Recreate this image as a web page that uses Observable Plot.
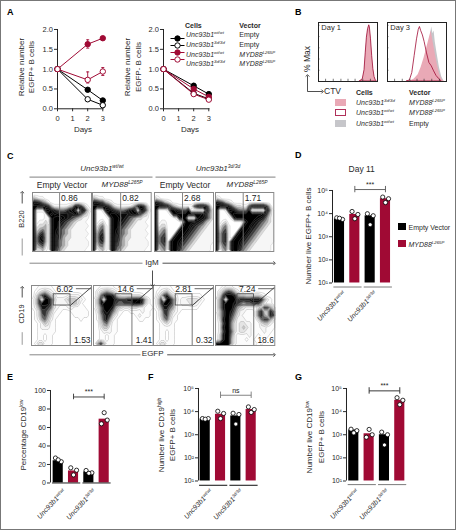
<!DOCTYPE html>
<html><head><meta charset="utf-8">
<script src="https://cdn.jsdelivr.net/npm/d3@7"></script>
<script src="https://cdn.jsdelivr.net/npm/@observablehq/plot@0.6"></script>
<style>
html,body{margin:0;padding:0;background:#fff}
#fig{position:relative;width:457px;height:531px;overflow:hidden;font-family:"Liberation Sans",Arial,sans-serif;color:#2a2a2a}
.t{position:absolute;white-space:nowrap;line-height:1}
.t sup{font-size:.62em;line-height:0;vertical-align:.55em}
.sw{position:absolute;box-sizing:border-box}
#border{position:absolute;left:0;top:0;width:456px;height:530px;box-sizing:border-box;border:1.5px solid #777;pointer-events:none}
svg{overflow:visible}
</style></head><body><div id="fig"><div id="border"></div></div>
<script>
// ---------- data ----------
const RED="#a00a34", PINK="#e9a9b6", GREYF="#c6c6ca";
const days=[0,2,3];
const aLeftBlackFilled=[1,0.48,0.21], aLeftBlackOpen=[1,0.24,0.09], aLeftRedFilled=[1,1.63,1.78], aLeftRedOpen=[1,0.73,0.94];
const aRightBlackFilled=[1,0.58,0.37], aRightBlackOpen=[1,0.39,0.25], aRightRedFilled=[1,0.5,0.3], aRightRedOpen=[1,0.37,0.23];
const aLeftErr=[{x:2,lo:1.53,hi:1.74,c:RED},{x:2,lo:0.65,hi:0.93,c:RED},{x:3,lo:0.84,hi:1.04,c:RED}];
const aRightErr=[{x:2,lo:0.52,hi:0.64,c:"#000"},{x:3,lo:0.32,hi:0.42,c:"#000"}];
const aYTicks=[0,0.5,1,1.5,2], aXTicks=[0,1,2,3];
const cellsLabels=["Unc93b1<sup>wt/wt</sup>","Unc93b1<sup>3d/3d</sup>","Unc93b1<sup>wt/wt</sup>","Unc93b1<sup>3d/3d</sup>"];
const vectorLabels=["Empty","Empty","<i>MYD88<sup>L265P</sup></i>","<i>MYD88<sup>L265P</sup></i>"];

const histDay1X=[70,75,78,80,82,84,86,87,89,91,93,95,97,99];
const histDay1Y=[0,0.04,0.2,0.5,0.78,0.93,1,0.97,0.75,0.45,0.22,0.08,0.02,0];
const histOutlineX=[33,38,42,46,50,53,55,57,60,63,67,71,75,79,83,87,92];
const histOutlineY=[0,0.02,0.15,0.45,0.75,0.92,0.97,0.9,0.82,0.7,0.5,0.33,0.27,0.18,0.1,0.05,0];
const histGreyX=[60,66,70,73,75,77,79,81,84,88,92,96];
const histGreyY=[0,0.2,0.5,0.85,0.97,0.85,0.9,0.7,0.5,0.25,0.08,0];
const histPinkX=[36,45,52,57,62,67,71,74,77,80,84,88,92,96];
const histPinkY=[0,0.04,0.12,0.25,0.42,0.62,0.78,0.9,0.72,0.55,0.32,0.14,0.04,0];
const histTicksX=[12,25,38,50,62,75,88], histTicksY=[0.2,0.4,0.6,0.8,1];

const top1=["00000000000000000000","32110000000000000000","77643100000000000000","99997631111123786310","91119976544578909831","90001897877766875320","90001189998765432110","90112189976543211100","91223089965432111110","92343089854321111100","93563089754321111110","94783089653221111100","94673089643211111110","93452089643211111110","92231089532111111100"];
const top2=["00000000000000000000","32110000000000000000","77653210000000000000","99997642111112478630","90019976544578909941","90001899877767875320","90000189987654322110","90120089976543211100","91341089965432111110","92451089854321111100","93561089754321111110","93671089653221111100","93561089643211111110","92441089543211111110","91231089432111111100"];
const top3=["00000000000000000000","21000000000000000000","76532100000000000000","99997532111115899740","90001997655900000952","90000199999999998642","90000001899000987642","90110000019999765321","91220000089976543211","92340000899865432111","93450008998654321111","94560089986543211111","94560899865432111111","93450899754321111110","92340899643211111110"];
const top4=["00000000000000000000","21000000000000000000","76532100000000000000","99997532211589999630","90019975444900000951","90001899999999998631","90000189999999876421","90120000018997654321","91341000089976543211","92451000899865432111","93561008998654321111","93561089986543211111","93561899865432111111","92451899754321111110","91341899643211111110"];
const bot1=["00111110000000000000","01234321000000000000","02578643111122221000","13709974222344432100","13799973222234431000","12588763211122111100","01377642110001111110","01367531100000111110","01256421000000001000","00124311000000000000","00122211000000000000","00111111000000000000","00110110000000000000","00110110000000000000","01331110000000000000"];
const bot2=["00111110000000000000","02345432100000000000","02689985322222221000","14809998777889998410","14899997667779997310","13699985432233322111","02689864110011112110","01578742100000121110","01478521000000011000","00356311000000000000","00244211000000000000","00122211000000000000","00110110000000000000","00110110000000000000","05841110000000000000"];
const bot3=["00111100000000000000","01234210000000000000","02478532111111110000","13709963122333321000","13799862122233210000","12588652111111100000","01377532100000000000","01367421000000000000","01256311000000000000","00123210000000000000","00111110000000000000","00110110000000000000","00110110000000000000","00110110000000000000","01331110000000000000"];
const bot4=["00122211000000000000","02467642100000000000","03799985443333321000","25809997888899985210","25899987656677752110","25899975432222347753","24799864221112684486","14799753211112685487","13899642221111367753","12799532332211134421","12899532343211122111","12799632332211112110","13899521111211011100","13899421110110011000","99999421111111010000"];
const topLabels=["0.86","0.82","2.68","1.71"];
const topGates=[9.2,9.6,9.5,9.5];
const midLabels=["6.02","14.6","2.81","7.24"];
const midLabelPos=[11.1,10.8,10,10.7];
const lowLabels=["1.53","1.41","0.32","18.6"];

const jitter=[-0.18,0.2,0];
const dBars=[5800,9200,8000,44000];
const dDots=[[6600,5600,6300],[12400,9200,6000],[9900,8100,3300],[52000,44000,30000]];
const eBars=[24,13,12,69];
const eDots=[[27,23,25],[16.4,13.8,8.7],[13.5,11,10.5],[64,68,76]];
const fBars=[4700,7700,6500,12300];
const fDots=[[5000,5000,4700],[10400,8300,5000],[8500,7500,2900],[16000,12300,9200]];
const gBars=[1600,1100,1000,31000];
const gDots=[[1740,1500,1200],[780,1000,1700],[1300,1000,360],[40000,31000,20000]];
const logTicks=[10,100,1000,10000,100000];
const logTickLabels=["10¹","10²","10³","10⁴","10⁵"];
const pctTicks=[0,20,40,60,80,100];

// ---------- helpers ----------
const fig=document.getElementById("fig");
const baseStyle={background:"transparent",fontFamily:"'Liberation Sans',Arial,sans-serif",fontSize:"7.5px",color:"#2a2a2a",overflow:"visible"};
function place(el,l,t){el.style.position="absolute";el.style.left=l+"px";el.style.top=t+"px";fig.appendChild(el);return el;}
function label(html,x,y,o={}){
  const d=document.createElement("div");d.className="t";d.innerHTML=html;
  const a=o.a||"c",rot=o.rot||0;
  d.style.left=x+"px";d.style.top=y+"px";d.style.fontSize=(o.size||8)+"px";
  if(o.b)d.style.fontWeight="bold";if(o.i)d.style.fontStyle="italic";
  if(o.color)d.style.color=o.color;
  if(a==="c"){d.style.transform=`translate(-50%,-50%) rotate(${rot}deg)`;}
  else if(a==="l"){d.style.transform=`translate(0,-50%) rotate(${rot}deg)`;d.style.transformOrigin="0 50%";}
  else{d.style.transform=`translate(-100%,-50%) rotate(${rot}deg)`;d.style.transformOrigin="100% 50%";}
  fig.appendChild(d);return d;
}
function swatch(x,y,w,h,bg,bd){const s=document.createElement("div");s.className="sw";s.style.cssText+=`left:${x}px;top:${y}px;width:${w}px;height:${h}px;background:${bg};${bd?`border:1px solid ${bd};`:""}`;fig.appendChild(s);}

// ---------- panel A ----------
function seriesRows(name,vals,stroke,fill){return vals.map((v,i)=>({name,x:days[i],y:v,stroke,fill}));}
function panelA(left,series,errs){
  const ml=26;
  const p=Plot.plot({width:ml+45.3+8,height:4+79.3+22,marginLeft:ml,marginRight:8,marginTop:4,marginBottom:22,style:baseStyle,
    x:{domain:[0,3]},y:{domain:[0,2]},
    marks:[
      Plot.axisX({ticks:aXTicks,tickSize:3,tickPadding:4,label:null,tickFormat:d=>d}),
      Plot.axisY({ticks:aYTicks,tickSize:3,tickPadding:1.5,label:null,tickFormat:d3.format(".1f")}),
      Plot.ruleX([0],{stroke:"#222"}),
      Plot.ruleY([0],{x1:0,x2:3.08,stroke:"#222"}),
      Plot.ruleX(errs,{x:"x",y1:"lo",y2:"hi",stroke:"c",strokeWidth:0.9}),
      Plot.link(errs,{x1:d=>d.x-0.1,x2:d=>d.x+0.1,y1:"hi",y2:"hi",stroke:"c",strokeWidth:0.9}),
      Plot.link(errs,{x1:d=>d.x-0.1,x2:d=>d.x+0.1,y1:"lo",y2:"lo",stroke:"c",strokeWidth:0.9}),
      ...series.map(s=>Plot.line(s,{x:"x",y:"y",stroke:s[0].stroke,strokeWidth:1})),
      ...series.map(s=>Plot.dot(s,{x:"x",y:"y",r:2.7,stroke:s[0].stroke,fill:s[0].fill,strokeWidth:1}))
    ]});
  place(p,left-ml,25);
}
panelA(56.7,[
  seriesRows("a",aLeftBlackFilled,"#000","#000"),
  seriesRows("b",aLeftBlackOpen,"#000","#fff"),
  seriesRows("c",aLeftRedFilled,RED,RED),
  seriesRows("d",aLeftRedOpen,RED,"#fff")],aLeftErr);
panelA(163.3,[
  seriesRows("a",aRightBlackFilled,"#000","#000"),
  seriesRows("b",aRightBlackOpen,"#000","#fff"),
  seriesRows("c",aRightRedFilled,RED,RED),
  seriesRows("d",aRightRedOpen,RED,"#fff")],aRightErr);
label("A",7,12,{b:1,size:9,a:"l",color:"#000"});
label("Relative number",21.7,67,{rot:-90,size:8});label("EGFP+ B cells",31.7,67,{rot:-90,size:8});
label("Relative number",128,67,{rot:-90,size:8});label("EGFP- B cells",139,67,{rot:-90,size:8});
label("Days",83,130,{size:8});label("Days",190,130,{size:8});
// legend A (a point scale over the four rows)
{
  const rows=[0,1,2,3].map(i=>({i,s:i<2?"#000":RED,f:i%2?"#fff":(i<2?"#000":RED)}));
  const p=Plot.plot({width:14,height:39,margin:0,marginTop:5,marginBottom:5,style:baseStyle,
    x:{domain:[0,1],axis:null},y:{type:"point",domain:[0,1,2,3],axis:null},
    marks:[Plot.link(rows,{x1:()=>0,x2:()=>1,y1:"i",y2:"i",stroke:"s",strokeWidth:1}),
           Plot.dot(rows,{x:()=>0.5,y:"i",r:2.7,stroke:"s",fill:"f",strokeWidth:1})]});
  place(p,170,29.3);
  label("Cells",185,25.3,{b:1,size:7,a:"l"});label("Vector",239.3,25.3,{b:1,size:7,a:"l"});
  [34.3,44,54,63.3].forEach((y,i)=>{label(cellsLabels[i],186,y,{i:1,size:7,a:"l"});label(vectorLabels[i],239.3,y,{size:7,a:"l"});});
}

// ---------- panel B ----------
function hist(left,layers,title){
  const p=Plot.plot({width:59,height:59,margin:0,style:baseStyle,x:{domain:[0,100],axis:null},y:{domain:[0,1.05],axis:null},
    marks:[
      ...layers.map(l=>Plot.areaY(l.xs.map((x,i)=>({x,y:l.ys[i]})),{x:"x",y:"y",fill:l.fill||"none",fillOpacity:l.op||1,stroke:l.stroke||"none",strokeWidth:0.8})),
      Plot.ruleX(histTicksX,{y1:0,y2:0.04,stroke:"#222",strokeWidth:0.6}),
      Plot.ruleY(histTicksY,{x1:0,x2:2.5,stroke:"#222",strokeWidth:0.6}),
      Plot.frame({stroke:"#222",strokeWidth:1})
    ]});
  place(p,left,21.7);
  label(title,left+3,28,{a:"l",size:7.5});
}
hist(318.3,[{xs:histDay1X,ys:histDay1Y,fill:GREYF},{xs:histDay1X,ys:histDay1Y,fill:PINK,stroke:RED}],"Day 1");
hist(387.3,[{xs:histGreyX,ys:histGreyY,fill:GREYF},{xs:histPinkX,ys:histPinkY,fill:PINK},{xs:histOutlineX,ys:histOutlineY,stroke:RED}],"Day 3");
label("B",295,12,{b:1,size:9,a:"l",color:"#000"});
label("% Max",307,59,{rot:-90,size:8.5});
label("CTV",324,91,{a:"l",size:8.5});
label("Cells",356,92,{b:1,size:7,a:"l"});label("Vector",409,92,{b:1,size:7,a:"l"});
[102,112,123].forEach((y,i)=>{
  label(["Unc93b1<sup>3d/3d</sup>","Unc93b1<sup>wt/wt</sup>","Unc93b1<sup>wt/wt</sup>"][i],356,y,{i:1,size:7,a:"l"});
  label(["<i>MYD88<sup>L265P</sup></i>","<i>MYD88<sup>L265P</sup></i>","Empty"][i],409,y,{size:7,a:"l"});
  swatch(335,y-3.5,11,7,["#e9a9b6","#fff","#c6c6ca"][i],i==1?"#b0305a":null);
});

// ---------- panel C ----------
const thresholds=[0.5,1.5,2.5,3.5,4.5,5.5,6.5,7.5,8.5];
function cyto(grid,left,top,w,h,extra,lineCol,lineW,colorDom,colorRng){
  const values=grid.flatMap(r=>[...r].map(Number));
  const p=Plot.plot({width:w,height:h,margin:0,style:{...baseStyle,fontSize:"8.5px"},
    x:{domain:[0,20],axis:null},y:{domain:[0,15],reverse:true,axis:null},
    color:{type:"linear",domain:colorDom,range:colorRng},
    marks:[
      Plot.contour(values,{width:20,height:15,x1:0,x2:20,y1:0,y2:15,fill:Plot.identity,stroke:lineCol,strokeWidth:lineW,thresholds}),
      ...extra,
      Plot.frame({stroke:"#8a8a8a",strokeWidth:1})
    ]});
  place(p,left,top);
}
const topLeft=[31.7,92.3,153.7,215], topW=[59,58.7,59,58.3];
[top1,top2,top3,top4].forEach((g,i)=>{
  const gate=topGates[i];
  cyto(g,topLeft[i],191.7,topW[i],59,[
    Plot.ruleX([gate],{stroke:"#777",strokeWidth:0.9}),
    Plot.text([topLabels[i]],{x:gate+0.5,y:1.4,text:d=>d,textAnchor:"start",fill:"#222",stroke:"#fff",strokeWidth:1.5})
  ],"#999",0.25,[0,1,2,3,5,7],["#fff","#ececec","#c6c6c6","#8f8f8f","#222","#000"]);
});
const botLeft=[30.7,92.7,153.3,215], botW=[60,59.6,60,59.3];
[bot1,bot2,bot3,bot4].forEach((g,i)=>{
  cyto(g,botLeft[i],285,botW[i],60,[
    Plot.rect([0],{x1:()=>7.4,x2:()=>13,y1:()=>2.2,y2:()=>5,stroke:"#444",strokeWidth:0.8,fill:"none"}),
    Plot.ruleX([12.9],{y1:5,y2:15,stroke:"#555",strokeWidth:0.8}),
    Plot.link([0],{x1:()=>12.9,y1:()=>5,x2:()=>20,y2:()=>0.4,stroke:"#222",strokeWidth:0.8}),
    Plot.link([0],{x1:()=>midLabelPos[i]+3.7,y1:()=>0.8,x2:()=>20,y2:()=>0.8,stroke:"#444",strokeWidth:0.8}),
    Plot.text([midLabels[i]],{x:midLabelPos[i],y:0.9,text:d=>d,fill:"#222",stroke:"#fff",strokeWidth:1.5}),
    Plot.text([lowLabels[i]],{x:19.7,y:13.7,text:d=>d,textAnchor:"end",fill:"#222",stroke:"#fff",strokeWidth:1.5})
  ],"#888",0.3,[0,2,4,6,8],["#fff","#f2f2f2","#bbb","#444","#000"]);
});
label("C",7,155.7,{b:1,size:9,a:"l",color:"#000"});
label("Unc93b1<sup>wt/wt</sup>",102,169,{i:1,size:8});
label("Unc93b1<sup>3d/3d</sup>",218,169,{i:1,size:8});
label("Empty Vector",62,185,{size:8.5});label("Empty Vector",185,185,{size:8.5});
label("MYD88<sup>L265P</sup>",122,185,{i:1,size:8});label("MYD88<sup>L265P</sup>",247,185,{i:1,size:8});
label("B220",22,219,{rot:-90,size:7.5});
label("CD19",22,314,{rot:-90,size:7.5});
label("IgM",152,262.5,{size:8});
label("EGFP",152.7,354.3,{size:8});

// overlay of connector and arrow lines (page pixel scales)
const connectors=[
 {x1:29,y1:176.7,x2:152,y2:176.7,c:"#9a9a9a",w:1.3},{x1:155,y1:176.7,x2:275,y2:176.7,c:"#9a9a9a",w:1.3},
 {x1:21.7,y1:238,x2:21.7,y2:255,c:"#9a9a9a",w:1},{x1:21.7,y1:331.7,x2:21.7,y2:344.3,c:"#9a9a9a",w:1},
 {x1:29,y1:262.7,x2:142,y2:262.7,c:"#555",w:0.7},{x1:29,y1:354.3,x2:140,y2:354.3,c:"#555",w:0.7}
];
const arrows=[
 {x1:21.7,y1:203,x2:21.7,y2:191.7},{x1:21.7,y1:297,x2:21.7,y2:286.7},
 {x1:162,y1:262.7,x2:274,y2:262.7},{x1:166.7,y1:354.3,x2:274,y2:354.3},
 {x1:152,y1:270,x2:152,y2:285},{x1:307,y1:91,x2:307,y2:75},{x1:307,y1:91,x2:322,y2:91}
];
place(Plot.plot({width:457,height:531,margin:0,style:baseStyle,x:{domain:[0,457],axis:null},y:{domain:[0,531],reverse:true,axis:null},
  marks:[
   Plot.link(connectors,{x1:"x1",y1:"y1",x2:"x2",y2:"y2",stroke:"c",strokeWidth:"w"}),
   Plot.link(arrows,{x1:"x1",y1:"y1",x2:"x2",y2:"y2",stroke:"#222",strokeWidth:0.8,markerEnd:"arrow"})
  ]}),0,0);

// ---------- bar panels ----------
function barPanel(o){
  const ml=30,sp=15.33,a=(o.x0-o.axisX)/sp,xmax=3.7;
  const rows=o.bars.map((v,i)=>({i,v,f:i%2?RED:"#000"}));
  const dots=o.dots.flatMap((vs,i)=>vs.map((v,j)=>({x:i+jitter[j],v})));
  const base=o.log?10:0;
  const p=Plot.plot({width:ml+(a+xmax)*sp,height:16+92.5+10,marginLeft:ml,marginRight:0,marginTop:16,marginBottom:10,style:{...baseStyle,fontSize:"7px"},
    x:{domain:[-a,xmax],axis:null},
    y:o.log?{type:"log",domain:[10,100000]}:{domain:[0,100]},
    marks:[
      Plot.axisY({ticks:o.log?logTicks:pctTicks,tickSize:3,tickPadding:1.5,label:null,
        tickFormat:o.log?(d=>logTickLabels[logTicks.indexOf(d)]):(d=>d)}),
      Plot.ruleX([-a],{stroke:"#222"}),
      Plot.rectY(rows,{x1:d=>d.i-0.33,x2:d=>d.i+0.33,y1:()=>base,y2:"v",fill:"f"}),
      Plot.dot(dots,{x:"x",y:"v",r:2.1,fill:"#fff",stroke:"#000",strokeWidth:0.8}),
      Plot.link([[-0.4,1.44],[1.58,3.42]],{x1:d=>d[0],x2:d=>d[1],y1:()=>o.under,y2:()=>o.under,stroke:o.underC,strokeWidth:1.1}),
      Plot.link([0],{x1:()=>1,x2:()=>3,y1:()=>o.br[0],y2:()=>o.br[0],stroke:o.brC,strokeWidth:0.9}),
      Plot.ruleX([1,3],{y1:o.br[1],y2:o.br[2],stroke:o.brC,strokeWidth:0.9}),
      Plot.text([o.sig],{x:()=>2,y:()=>o.br[0],dy:-5,text:d=>d,fontSize:7,fill:"#222"})
    ]});
  place(p,o.axisX-ml,o.yTop-16);
  label("<i>Unc93b1<sup>wt/wt</sup></i>",o.labelX[0],o.labelY,{a:"r",rot:-47,size:7});
  label("<i>Unc93b1<sup>3d/3d</sup></i>",o.labelX[1],o.labelY,{a:"r",rot:-47,size:7});
}
barPanel({log:true,x0:338.7,axisX:331.7,yTop:190,bars:dBars,dots:dDots,under:6.7,underC:"#888",br:[110000,80000,150000],brC:"#555",sig:"***",labelX:[344,375],labelY:292});
barPanel({log:false,x0:57.7,axisX:50,yTop:390,bars:eBars,dots:eDots,under:0,underC:"#333",br:[93,90,96],brC:"#333",sig:"***",labelX:[64,94],labelY:490});
barPanel({log:true,x0:205,axisX:198.3,yTop:388.3,bars:fBars,dots:fDots,under:6.5,underC:"#222",br:[51000,37000,70000],brC:"#777",sig:"ns",labelX:[211,241],labelY:490});
barPanel({log:true,x0:353,axisX:345.7,yTop:388.3,bars:gBars,dots:gDots,under:7,underC:"#888",br:[79000,57000,108000],brC:"#222",sig:"***",labelX:[357,387],labelY:490});

label("D",295,155,{b:1,size:9,a:"l",color:"#000"});
label("E",7,377,{b:1,size:9,a:"l",color:"#000"});
label("F",148,377,{b:1,size:9,a:"l",color:"#000"});
label("G",295,377,{b:1,size:9,a:"l",color:"#000"});
label("Day 11",361.7,169,{size:8.5});
label("Number live EGFP+ B cells",309,236,{rot:-90,size:8});
swatch(398,223,8,7,"#000");swatch(398,240,8,7,RED);
label("Empty Vector",408.5,227,{a:"l",size:7});
label("MYD88<sup>L265P</sup>",408.5,243.5,{a:"l",size:7,i:1});
label("Percentage CD19<sup>low</sup>",24,435,{rot:-90,size:8});
label("Number live CD19<sup>high</sup>",161.7,435,{rot:-90,size:8});
label("EGFP+ B cells",173,435,{rot:-90,size:8});
label("Number live CD19<sup>low</sup>",310,437,{rot:-90,size:8});
label("EGFP+ B cells",321.7,437,{rot:-90,size:8});
</script></body></html>
